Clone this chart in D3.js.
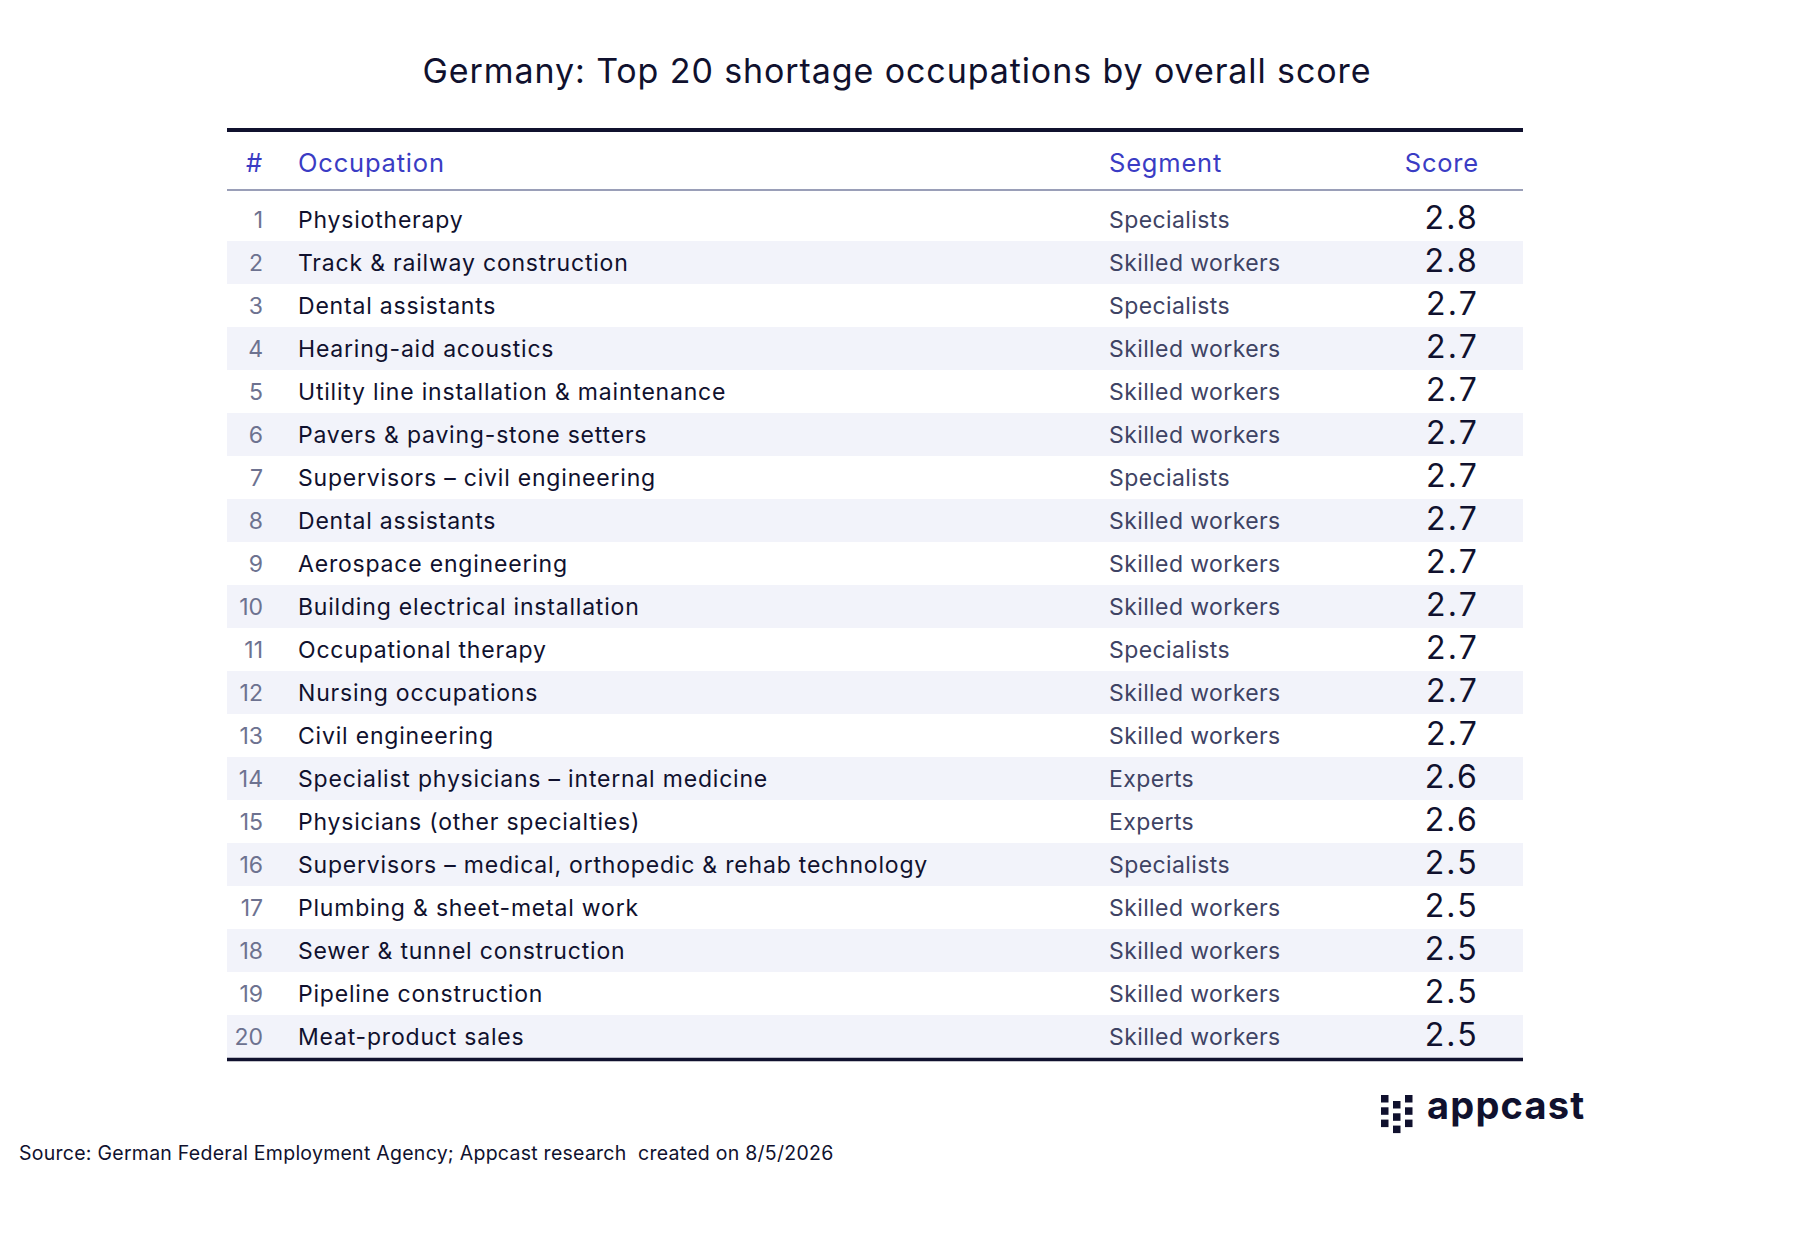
<!DOCTYPE html>
<html>
<head>
<meta charset="utf-8">
<script src="https://cdn.jsdelivr.net/npm/d3@7"></script>
<style>
  html, body { margin: 0; padding: 0; background: #ffffff; }
  svg { display: block; }
  text { font-family: Inter, "Noto Sans", sans-serif; white-space: pre; }
</style>
</head>
<body>
<svg id="chart" width="1794" height="1242"></svg>
<script>
const title = "Germany: Top 20 shortage occupations by overall score";
const headers = ["#", "Occupation", "Segment", "Score"];
const ranks = [1,2,3,4,5,6,7,8,9,10,11,12,13,14,15,16,17,18,19,20];
const occupations = [
  "Physiotherapy",
  "Track & railway construction",
  "Dental assistants",
  "Hearing-aid acoustics",
  "Utility line installation & maintenance",
  "Pavers & paving-stone setters",
  "Supervisors – civil engineering",
  "Dental assistants",
  "Aerospace engineering",
  "Building electrical installation",
  "Occupational therapy",
  "Nursing occupations",
  "Civil engineering",
  "Specialist physicians – internal medicine",
  "Physicians (other specialties)",
  "Supervisors – medical, orthopedic & rehab technology",
  "Plumbing & sheet-metal work",
  "Sewer & tunnel construction",
  "Pipeline construction",
  "Meat-product sales"
];
const segments = [
  "Specialists","Skilled workers","Specialists","Skilled workers","Skilled workers",
  "Skilled workers","Specialists","Skilled workers","Skilled workers","Skilled workers",
  "Specialists","Skilled workers","Skilled workers","Experts","Experts",
  "Specialists","Skilled workers","Skilled workers","Skilled workers","Skilled workers"
];
const scores = [2.8,2.8,2.7,2.7,2.7,2.7,2.7,2.7,2.7,2.7,2.7,2.7,2.7,2.6,2.6,2.5,2.5,2.5,2.5,2.5];
const sourceText = "Source: German Federal Employment Agency; Appcast research  created on 8/5/2026";
const logoText = "appcast";

const rows = ranks.map((r, i) => ({rank: r, occ: occupations[i], seg: segments[i], score: scores[i]}));

const svg = d3.select("#chart");

const NAVY = "#10112e";
const BLUE = "#3a3cc4";
const GRAY_NUM = "#6d7290";
const GRAY_SEG = "#3e4364";
const BAND = "#f2f3fa";

const tableLeft = 227, tableRight = 1523;
const y = d3.scaleBand().domain(ranks).range([198, 1058]).paddingInner(0).paddingOuter(0);

// columns (x anchors)
const col = { rank: 263, occ: 298, seg: 1109, score: 1479 };

// title
svg.append("text")
  .attr("x", 897).attr("y", 83)
  .attr("text-anchor", "middle")
  .attr("fill", NAVY)
  .attr("font-size", 34)
  .attr("font-weight", 400)
  .attr("letter-spacing", 0.9)
  .text(title);

// bands
svg.append("g").selectAll("rect")
  .data(rows.filter(d => d.rank % 2 === 0))
  .join("rect")
  .attr("x", tableLeft).attr("width", tableRight - tableLeft)
  .attr("y", d => y(d.rank)).attr("height", y.bandwidth())
  .attr("fill", BAND);

// top thick line
svg.append("line")
  .attr("x1", tableLeft).attr("x2", tableRight)
  .attr("y1", 130).attr("y2", 130)
  .attr("stroke", NAVY).attr("stroke-width", 4);

// header separator
svg.append("line")
  .attr("x1", tableLeft).attr("x2", tableRight)
  .attr("y1", 190).attr("y2", 190)
  .attr("stroke", "#9a9fb8").attr("stroke-width", 2);

// bottom thick line
svg.append("line")
  .attr("x1", tableLeft).attr("x2", tableRight)
  .attr("y1", 1059.5).attr("y2", 1059.5)
  .attr("stroke", NAVY).attr("stroke-width", 3.5);

// headers
const hdr = svg.append("g").attr("fill", BLUE).attr("font-size", 25.5).attr("letter-spacing", 0.8);
hdr.append("text").attr("x", col.rank).attr("y", 172).attr("text-anchor", "end").text(headers[0]);
hdr.append("text").attr("x", col.occ).attr("y", 172).text(headers[1]);
hdr.append("text").attr("x", col.seg).attr("y", 172).text(headers[2]);
hdr.append("text").attr("x", col.score).attr("y", 172).attr("text-anchor", "end").text(headers[3]);

// rows
const rowG = svg.append("g").selectAll("g")
  .data(rows)
  .join("g")
  .attr("transform", d => `translate(0,${y(d.rank) + y.bandwidth() / 2})`);

rowG.append("text")
  .attr("x", col.rank).attr("dy", "0.36em")
  .attr("text-anchor", "end")
  .attr("fill", GRAY_NUM).attr("font-size", 23)
  .text(d => d.rank);

rowG.append("text")
  .attr("x", col.occ).attr("dy", "0.36em")
  .attr("fill", NAVY).attr("font-size", 23)
  .attr("letter-spacing", 0.8)
  .text(d => d.occ);

rowG.append("text")
  .attr("x", col.seg).attr("dy", "0.36em")
  .attr("fill", GRAY_SEG).attr("font-size", 23)
  .attr("letter-spacing", 0.4)
  .text(d => d.seg);

rowG.append("text")
  .attr("x", col.score).attr("dy", "0.31em")
  .attr("text-anchor", "end")
  .attr("fill", NAVY).attr("font-size", 32)
  .attr("letter-spacing", 2.2)
  .text(d => d3.format(".1f")(d.score));

// source
svg.append("text")
  .attr("x", 19).attr("y", 1160)
  .attr("fill", NAVY).attr("font-size", 19.5)
  .attr("letter-spacing", 0.26)
  .text(sourceText);

// logo
const logo = svg.append("g").attr("fill", NAVY);
const sq = 7.5, pitch = 12.3;
[0, 1, 2].forEach(c => {
  const off = c === 1 ? 6 : 0;
  for (let r = 0; r < 3; r++) {
    logo.append("rect")
      .attr("x", 1381 + c * 12)
      .attr("y", 1095 + off + r * pitch)
      .attr("width", sq).attr("height", sq);
  }
});
logo.append("text")
  .attr("x", 1427).attr("y", 1119)
  .attr("font-family", "'DejaVu Sans', sans-serif")
  .attr("font-weight", 700)
  .attr("font-size", 38)
  .attr("letter-spacing", 1.2)
  .text(logoText);
</script>
</body>
</html>
